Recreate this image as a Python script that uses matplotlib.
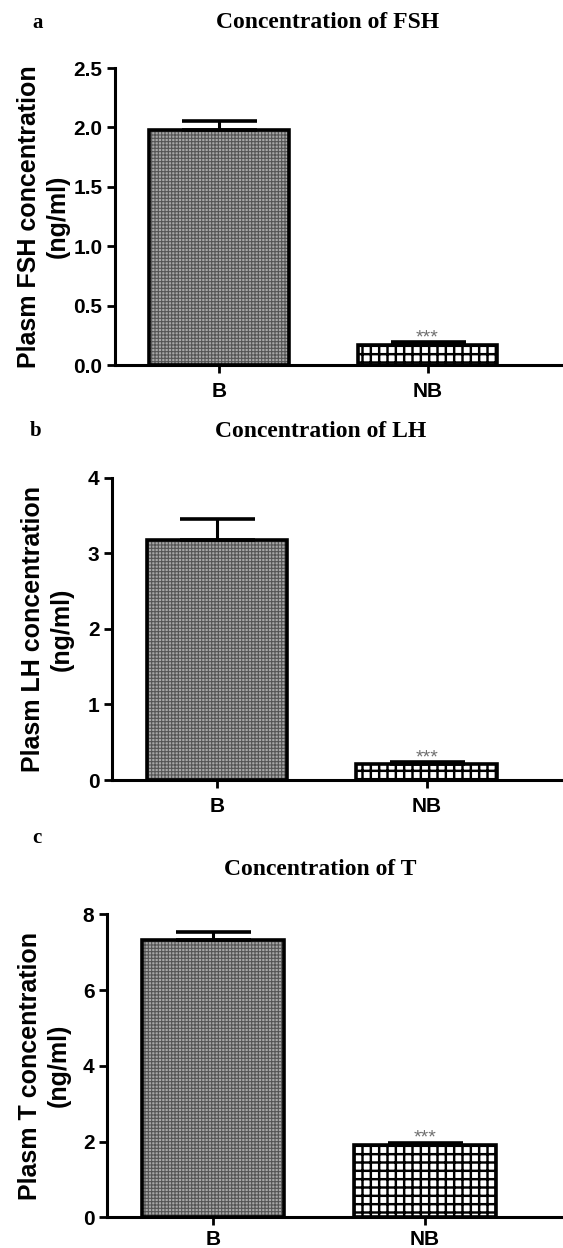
import matplotlib
matplotlib.use("Agg")
import matplotlib.pyplot as plt

GROUPS = ["B", "NB"]
PANELS = ["a", "b", "c"]
TITLES = ["Concentration of FSH", "Concentration of LH", "Concentration of T"]
YLABELS = ["Plasm FSH concentration\n(ng/ml)",
           "Plasm LH concentration\n(ng/ml)",
           "Plasm T concentration\n(ng/ml)"]
FSH = [1.98, 0.17]
FSH_ERR = [0.07, 0.02]
LH = [3.17, 0.21]
LH_ERR = [0.28, 0.03]
T = [7.32, 1.92]
T_ERR = [0.22, 0.05]
YMAX = [2.5, 4, 8]
YTICKS = [[0.0, 0.5, 1.0, 1.5, 2.0, 2.5], [0, 1, 2, 3, 4], [0, 2, 4, 6, 8]]
YTICKLABELS = [["0.0", "0.5", "1.0", "1.5", "2.0", "2.5"],
               ["0", "1", "2", "3", "4"],
               ["0", "2", "4", "6", "8"]]

WIDTH = 0.67
SANS = "Liberation Sans"
SERIF = "Liberation Serif"

# axes boxes in figure fractions: left, bottom, width, height
BOXES = [(0.204, 0.7075, 0.796, 0.238),
         (0.199, 0.375, 0.801, 0.2422),
         (0.190, 0.0246, 0.810, 0.2428)]
TITLE_POS = [(0.581, 0.9816), (0.569, 0.654), (0.569, 0.303)]
LETTER_POS = [(0.066, 0.9816), (0.063, 0.655), (0.066, 0.3285)]
LABEL_X = [-0.10, -0.085, -0.08]
XPAD = [6, 6, 3]


def patterned_bar(ax, x, h, face, hatch, hcolor, hlw):
    with plt.rc_context({"hatch.linewidth": hlw}):
        ax.bar(x, h, WIDTH, color=face, edgecolor=hcolor, hatch=hatch,
               linewidth=0, zorder=2)
    ax.bar(x, h, WIDTH, fill=False, edgecolor="black", linewidth=2.6,
           zorder=3)


fig = plt.figure(figsize=(5.63, 12.48), dpi=100)
series = [(FSH, FSH_ERR), (LH, LH_ERR), (T, T_ERR)]

for i, (vals, errs) in enumerate(series):
    ax = fig.add_axes(BOXES[i])
    xs = list(range(len(GROUPS)))
    patterned_bar(ax, xs[0], vals[0], "#a8a8a8", "+++++", "#555555", 0.8)
    patterned_bar(ax, xs[1], vals[1], "white", "++", "black", 1.75)
    ax.errorbar(xs, vals, yerr=[[0] * len(vals), errs], fmt="none",
                ecolor="black", elinewidth=2.2, capsize=27, capthick=2.6,
                zorder=4)
    ax.annotate("***", (xs[1], vals[1] + errs[1]), xytext=(0, -3),
                textcoords="offset points", ha="center", va="bottom",
                fontsize=14, color="#707070", family=SANS)

    ax.set_xlim(-0.5, 1.65)
    ax.set_ylim(0, YMAX[i])
    ax.set_yticks(YTICKS[i])
    ax.set_yticklabels(YTICKLABELS[i])
    ax.set_xticks(xs)
    ax.set_xticklabels(GROUPS)
    for lab in ax.get_xticklabels() + ax.get_yticklabels():
        lab.set_family(SANS)
        lab.set_fontweight("bold")
        lab.set_fontsize(15)
    ax.tick_params(axis="both", direction="out", length=6, width=2, pad=3)
    ax.tick_params(axis="x", pad=XPAD[i])
    for side in ["top", "right"]:
        ax.spines[side].set_visible(False)
    for side in ["left", "bottom"]:
        ax.spines[side].set_linewidth(2.2)

    ax.set_ylabel(YLABELS[i], family=SANS, fontweight="bold", fontsize=18,
                  linespacing=1.25)
    ax.yaxis.set_label_coords(LABEL_X[i], 0.5)

    fig.text(*TITLE_POS[i], TITLES[i], family=SERIF, fontweight="bold",
             fontsize=17, ha="center", va="center")
    fig.text(*LETTER_POS[i], PANELS[i], family=SERIF, fontweight="bold",
             fontsize=15, ha="center", va="center")

fig.savefig("out.png", dpi=100)
